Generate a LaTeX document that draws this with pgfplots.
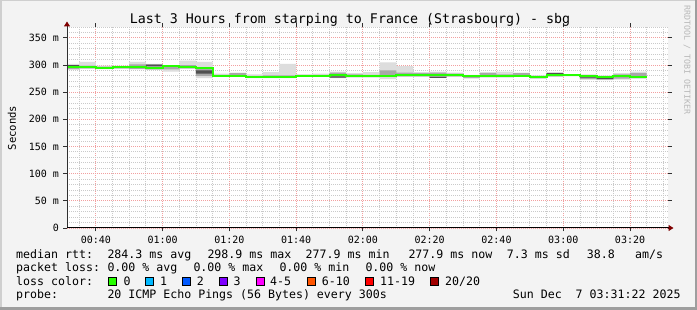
\documentclass[border=0pt]{standalone}
\usepackage{fontspec}
\setmonofont{DejaVu Sans Mono}
\usepackage{pgfplots}
\pgfplotsset{compat=1.18}
\usepackage{pgfplotstable}
\usepgfplotslibrary{fillbetween}
\usetikzlibrary{arrows.meta}
\definecolor{bgc}{HTML}{F3F3F3}
\definecolor{shadea}{HTML}{CFCFCF}
\definecolor{shadeb}{HTML}{9E9E9E}
\definecolor{gridred}{HTML}{F2A0A0}
\definecolor{gridgray}{HTML}{CACACA}
\definecolor{arrowc}{HTML}{7F0000}
\definecolor{axisc}{HTML}{303030}
\definecolor{smokeA}{HTML}{DDDDDD}
\definecolor{smokeB}{HTML}{A8A8A8}
\definecolor{smokeC}{HTML}{505050}
\definecolor{lz}{HTML}{26FF00}
\definecolor{la}{HTML}{00B8FF}
\definecolor{lb}{HTML}{0059FF}
\definecolor{lc}{HTML}{7E00FF}
\definecolor{ld}{HTML}{FF00FF}
\definecolor{le}{HTML}{FF5500}
\definecolor{lf}{HTML}{FF0000}
\definecolor{lg}{HTML}{A10000}
\definecolor{wm}{HTML}{B8B8B8}

\pgfplotstableread{
t med lo1 hi1 lo2 hi2 lo3 hi3
31.37 296 291 302 293 300 298 300
35 296.5 293 306 294 299 296.5 296.5
40 295 292.5 299 294 297 295 295
45 296.5 293 299 294 298 296.5 296.5
50 296.5 292 306 293 301 296.5 296.5
55 295 291 302 292 301 298 300.5
60 298.5 288 300 292 299 298.5 298.5
65 296 293 308 294 300 295 297
70 294.5 276 306 280 295 284 290
75 280 278 284 279 282 280 280
80 280 278 286 280 285 280 280
85 278 276 283 277 280 278 278
90 278.5 276 287 277 281 278.5 278.5
95 278.5 276 302 277 281 278.5 278.5
100 280 278 283 279 282 280 280
105 280 278 284 279 282 280 280
110 281 276 288 277 286 277 279
115 280.5 277 285 278 283 280.5 280.5
120 279.5 277 287 278 282 279.5 279.5
125 279.5 274 305 278 290 279.5 279.5
130 282 278 298 279 286 282 282
135 282 278 287 279 285 282 282
140 281 277 288 278 286 276.5 278
145 281 278 286 279 284 281 281
150 279.5 275 282 276.5 281 279.5 279.5
155 279.5 277 287 278 285 279.5 279.5
160 279.5 277 288 278 283 279.5 279.5
165 280 278 286 279 285 280 280
170 278.5 274.5 281 276 280 278.5 278.5
175 281 278 287 279 285 283 285
180 281 279 283 280 282 281 281
185 280.5 273 283 274 280 277 278.5
190 278.5 272 281 273 279 274.5 277
195 279.5 273 285 275 283 279.5 279.5
200 278.5 275 288 276 285 278.5 278.5
205 278.5 275 288 276 285 278.5 278.5
}\smoke

\newcommand{\lfont}{\fontsize{11.6}{13}\selectfont\ttfamily}
\newcommand{\lbox}[2]{\fill[#1,draw=black,line width=0.8pt] (#2pt,24.5pt) rectangle ++(8pt,8pt);}

\begin{document}
\pagecolor{bgc}%
\begin{tikzpicture}
% frame
\fill[shadea] (0,0) rectangle (1.5pt,310pt);
\fill[shadea] (0,308.5pt) rectangle (697pt,310pt);
\fill[shadeb] (0,0) rectangle (697pt,2.5pt);
\fill[shadeb] (694.5pt,0) rectangle (697pt,310pt);

\begin{axis}[
  name=ax,
  at={(67pt,82pt)}, anchor=south west,
  scale only axis, width=601pt, height=201pt,
  xmin=31.37, xmax=211.37, ymin=0, ymax=370,
  axis background/.style={fill=white},
  axis line style={draw=none},
  xtick={40,60,80,100,120,140,160,180,200},
  xticklabels={00:40,01:00,01:20,01:40,02:00,02:20,02:40,03:00,03:20},
  minor xtick={35,45,50,55,65,70,75,85,90,95,105,110,115,125,130,135,145,150,155,165,170,175,185,190,195,205,210},
  ytick={0,50,100,150,200,250,300,350},
  yticklabels={0,50 m,100 m,150 m,200 m,250 m,300 m,350 m},
  minor ytick={10,20,30,40,60,70,80,90,110,120,130,140,160,170,180,190,210,220,230,240,260,270,280,290,310,320,330,340,360,370},
  grid=both,
  major grid style={draw=gridred, line width=0.9pt, dash pattern=on 1pt off 1pt},
  minor grid style={draw=gridgray, line width=0.9pt, dash pattern=on 1pt off 1pt},
  tick align=outside,
  major tick length=3.5pt, minor tick length=0pt,
  tick style={draw=axisc, line width=0.9pt},
  /pgf/number format/assume math mode=true,
  tick label style={font=\fontsize{10}{12}\selectfont\ttfamily},
  yticklabel style={xshift=-1pt},
  xticklabel style={yshift=-1pt},
]
\addplot[const plot, draw=none, name path=a1, forget plot] table[x=t,y=lo1] {\smoke};
\addplot[const plot, draw=none, name path=b1, forget plot] table[x=t,y=hi1] {\smoke};
\addplot[smokeA, draw=none] fill between[of=a1 and b1];
\addplot[const plot, draw=none, name path=a2, forget plot] table[x=t,y=lo2] {\smoke};
\addplot[const plot, draw=none, name path=b2, forget plot] table[x=t,y=hi2] {\smoke};
\addplot[smokeB, draw=none] fill between[of=a2 and b2];
\addplot[const plot, draw=none, name path=a3, forget plot] table[x=t,y=lo3] {\smoke};
\addplot[const plot, draw=none, name path=b3, forget plot] table[x=t,y=hi3] {\smoke};
\addplot[smokeC, draw=none] fill between[of=a3 and b3];
\addplot[const plot, draw=lz, line width=2pt] table[x=t,y=med] {\smoke};
\end{axis}

% axis lines with arrows
\draw[axisc, line width=1pt, -{Triangle[length=5pt,width=6pt,color=arrowc]}] (67pt,82pt) -- (67pt,288.5pt);
\draw[black, line width=1pt, -{Triangle[length=5pt,width=6pt,color=arrowc]}] (67pt,82pt) -- (673.5pt,82pt);

% title, labels
\node[anchor=base, inner sep=0pt, font=\fontsize{13.3}{15}\selectfont\ttfamily] at (350pt,286pt) {Last 3 Hours from starping to France (Strasbourg) - sbg};
\node[rotate=90, inner sep=0pt, font=\fontsize{10.6}{12}\selectfont\ttfamily] at (12pt,182pt) {Seconds};
\node[rotate=-90, inner sep=0pt, text=wm, font=\fontsize{8.3}{10}\selectfont\ttfamily] at (687pt,250pt) {RRDTOOL / TOBI OETIKER};

% legend
\begin{scope}[every node/.style={anchor=base west, inner sep=0pt, font=\lfont}]
\node at (16pt,51.5pt) {median rtt:};
\node at (107.3pt,51.5pt) {284.3 ms avg};
\node at (207.3pt,51.5pt) {298.9 ms max};
\node at (305.5pt,51.5pt) {277.9 ms min};
\node at (408.3pt,51.5pt) {277.9 ms now};
\node at (506.7pt,51.5pt) {7.3 ms sd};
\node at (586.7pt,51.5pt) {38.8};
\node at (635pt,51.5pt) {am/s};
\node at (16pt,38pt) {packet loss:};
\node at (107.3pt,38pt) {0.00 \% avg};
\node at (193.3pt,38pt) {0.00 \% max};
\node at (279.3pt,38pt) {0.00 \% min};
\node at (365.3pt,38pt) {0.00 \% now};
\node at (16pt,24.5pt) {loss color:};
\lbox{lz}{108}
\node at (123.3pt,24.5pt) {0};
\lbox{la}{145.7}
\node at (160pt,24.5pt) {1};
\lbox{lb}{182.7}
\node at (196.7pt,24.5pt) {2};
\lbox{lc}{219.3}
\node at (233.3pt,24.5pt) {3};
\lbox{ld}{256}
\node at (270pt,24.5pt) {4-5};
\lbox{le}{307.3}
\node at (321.7pt,24.5pt) {6-10};
\lbox{lf}{365.7}
\node at (380pt,24.5pt) {11-19};
\lbox{lg}{430.7}
\node at (445pt,24.5pt) {20/20};
\node at (16pt,11pt) {probe:};
\node at (107.3pt,11pt) {20 ICMP Echo Pings (56 Bytes) every 300s};
\node[anchor=base east] at (680.7pt,11pt) {Sun Dec~~7 03:31:22 2025};
\end{scope}
\pgfresetboundingbox
\useasboundingbox (0,0) rectangle (697pt,310pt);
\end{tikzpicture}
\end{document}
